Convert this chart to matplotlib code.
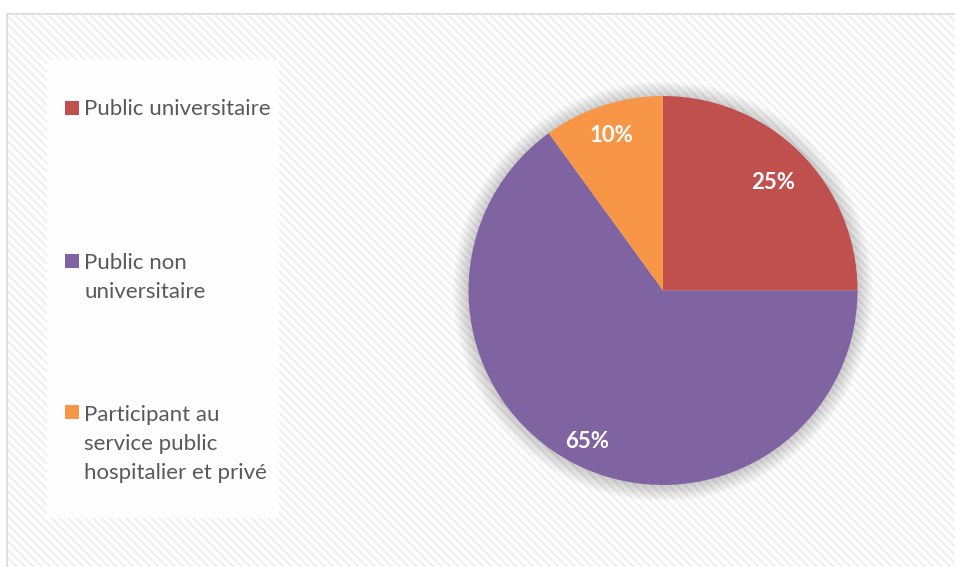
import numpy as np
import matplotlib
matplotlib.use("Agg")
import matplotlib.pyplot as plt
from matplotlib.patches import Rectangle, Circle

# Data
categories = ["Public universitaire",
              "Public non\nuniversitaire",
              "Participant au\nservice public\nhospitalier et privé"]
shares = [25, 65, 10]
colors = ["#C0504D", "#8064A2", "#F79646"]

W, H = 955, 567
fig = plt.figure(figsize=(W / 100, H / 100), dpi=100)
ax = fig.add_axes([0, 0, 1, 1])

def py(y):
    """Convert a top-down pixel row to axis y."""
    return H - y

# Chart area: light border with faint diagonal hatch
plt.rcParams["hatch.linewidth"] = 1.6
ax.add_patch(Rectangle((7, py(567 + 5)), W, 567 + 5 - 14,
                       facecolor="white", edgecolor="#D9D9D9", lw=1.2, zorder=0))
ax.add_patch(Rectangle((8, py(567 + 5)), W, 567 + 5 - 15,
                       facecolor="none", edgecolor="#F0F0F0", hatch="\\\\\\\\",
                       lw=0, zorder=0.5))

# Legend panel
ax.add_patch(Rectangle((47, py(518)), 279 - 47, 518 - 60,
                       facecolor="white", edgecolor="none", alpha=0.85, zorder=1))

# Pie
cx, cy, r = 663, py(290.5), 194.5

# soft shadow around the pie
n = 16
for i in range(n):
    rr = r + 16 * (1 - i / n)
    ax.add_patch(Circle((cx, cy - 1), rr, facecolor="#000000",
                        edgecolor="none", alpha=0.013, zorder=2))

wedges, texts, autotexts = ax.pie(
    shares, colors=colors, startangle=90, counterclock=False,
    center=(cx, cy), radius=r, autopct="%1.0f%%", pctdistance=0.84,
    wedgeprops=dict(linewidth=0), frame=True,
    textprops=dict(color="white", fontsize=16, fontweight="bold",
                   family=["Lato", "DejaVu Sans"]))
# per-slice label distance from the centre (fraction of radius)
label_dist = [0.80, 0.86, 0.85]
for w, t, d in zip(wedges, autotexts, label_dist):
    w.set_zorder(3)
    mid = np.deg2rad((w.theta1 + w.theta2) / 2)
    t.set_position((cx + d * r * np.cos(mid), cy + d * r * np.sin(mid)))
    t.set_va("center_baseline")
    t.set_zorder(4)
ax.set_xlim(0, W)
ax.set_ylim(0, H)
ax.set_aspect("equal")
ax.axis("off")

# Legend entries (baseline row of each entry's first line)
entry_rows = [115, 268, 419]
line_step = 30
for label, col, yrow in zip(categories, colors, entry_rows):
    ax.add_patch(Rectangle((65, py(yrow)), 13.5, 14, facecolor=col,
                           edgecolor="none", zorder=5))
    nlines = label.count("\n") + 1
    ax.text(84, py(yrow + (nlines - 1) * line_step), label, ha="left",
            va="baseline", fontsize=16, color="#595959",
            family=["Lato", "DejaVu Sans"], linespacing=1.55, zorder=5)

fig.savefig("out.png", dpi=100)
